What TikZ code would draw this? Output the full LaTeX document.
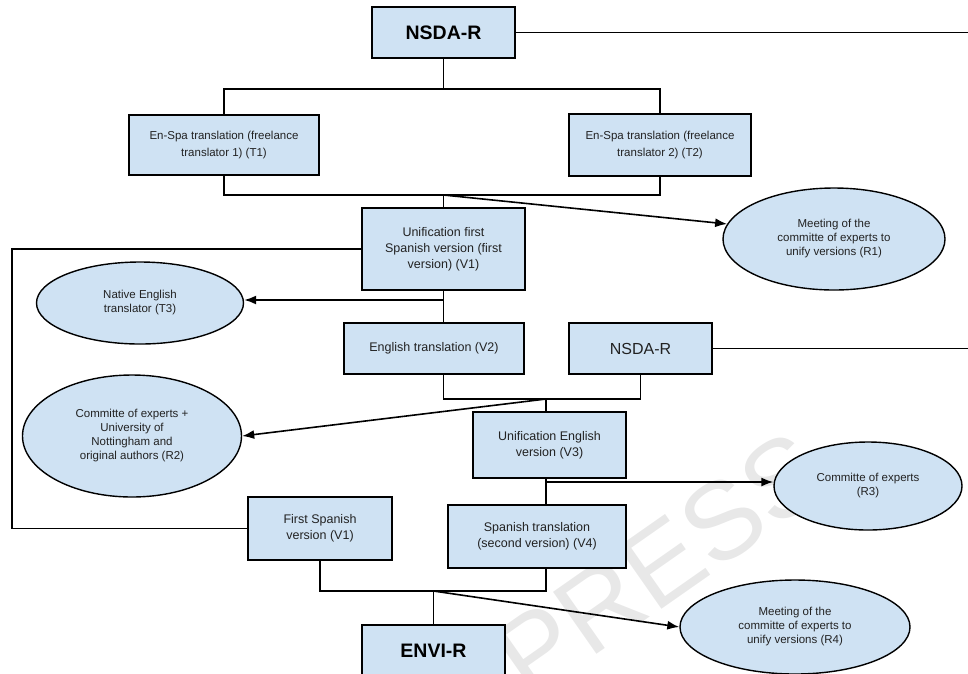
\documentclass[tikz,border=0pt]{standalone}
\usepackage{fontspec}
\setmainfont{Liberation Sans}
\usetikzlibrary{shapes.geometric,arrows,arrows.meta,positioning}
\definecolor{boxblue}{HTML}{CFE2F3}
\definecolor{txtgray}{HTML}{222222}
\definecolor{wmgray}{HTML}{E8E8E8}
\tikzstyle{l1}=[line width=1.6pt, draw=black]
\tikzstyle{arr}=[l1, -{Latex[length=12pt,width=9pt]}]
\tikzstyle{box}=[rectangle, draw=black, line width=1.8pt, fill=boxblue, inner sep=0pt, align=center, text=txtgray, font=\fontsize{12.5}{16}\selectfont]
\tikzstyle{tbox}=[box, font=\fontsize{11.5}{16.5}\selectfont]
\tikzstyle{title}=[box, text=black, font=\fontsize{19.5}{22}\selectfont\bfseries]
\tikzstyle{ell}=[ellipse, draw=black, line width=1.4pt, fill=boxblue, inner sep=0pt, align=center, text=txtgray, font=\fontsize{11.5}{14}\selectfont]

\begin{document}
\begin{tikzpicture}[x=1pt,y=-1pt]
    \useasboundingbox (0,0) rectangle (968,673);
    \node[text=wmgray, font=\fontsize{110}{110}\selectfont, rotate=35, anchor=base east] (wm) at (838,486) {IN PRESS};

    % boxes and ellipses
    \node[title, minimum width=143, minimum height=51] (nsda1) at (443.5,32.5) {NSDA-R};
    \node[tbox, minimum width=190, minimum height=60] (t1) at (224,145) {En-Spa translation (freelance\\translator 1) (T1)};
    \node[tbox, minimum width=182, minimum height=62] (t2) at (660,145) {En-Spa translation (freelance\\translator 2) (T2)};
    \node[box, minimum width=163, minimum height=82] (v1) at (443.5,249) {Unification first\\Spanish version (first\\version) (V1)};
    \node[ell, minimum width=222, minimum height=102] (r1) at (834,239) {Meeting of the\\committe of experts to\\unify versions (R1)};
    \node[ell, minimum width=207, minimum height=82] (t3) at (140,303) {Native English\\translator (T3)};
    \node[box, minimum width=180, minimum height=51] (v2) at (434,348.5) {English translation (V2)};
    \node[box, font=\fontsize{16}{18}\selectfont, minimum width=143, minimum height=51] (nsda2) at (640.5,348.5) {NSDA-R};
    \node[ell, minimum width=219, minimum height=122] (r2) at (132,436) {Committe of experts +\\University of\\Nottingham and\\original authors (R2)};
    \node[box, minimum width=153, minimum height=66] (v3) at (549.5,445) {Unification English\\version (V3)};
    \node[ell, minimum width=188, minimum height=88] (r3) at (868,486) {Committe of experts\\(R3)};
    \node[box, minimum width=144, minimum height=63] (fsv1) at (320,528.5) {First Spanish\\version (V1)};
    \node[box, minimum width=178, minimum height=63] (v4) at (537,536.5) {Spanish translation\\(second version) (V4)};
    \node[title, minimum width=143, minimum height=52] (envi) at (433.5,651) {ENVI-R};
    \node[ell, minimum width=230, minimum height=94] (r4) at (795,627) {Meeting of the\\committe of experts to\\unify versions (R4)};

    % junctions
    \coordinate (j1) at (443.5,89);
    \coordinate (j2) at (443.5,195);
    \coordinate (j3) at (443.5,300);
    \coordinate (j4) at (546,399);
    \coordinate (j5) at (546,482);
    \coordinate (j6) at (433.5,591);
    \coordinate (lc) at (12,400);
    \coordinate (e1) at (968,32.5);
    \coordinate (e2) at (968,348.5);

    % connectors
    \draw[l1] (nsda1) -- (e1);
    \draw[l1] (nsda1) -- (j1);
    \draw[l1] (t1.north) |- (j1) -| (t2.north);
    \draw[l1] (t1.south) |- (j2) -| (t2.south);
    \draw[l1] (j2) -- (v1);
    \draw[arr] (j2) -- (r1.172);
    \draw[l1] (v1) -| (lc) |- (fsv1);
    \draw[l1] (v1) -- (j3) -- (v1.south |- v2.north);
    \draw[arr] (j3) -- (j3 -| t3.east);
    \draw[l1] (nsda2) -- (e2);
    \draw[l1] (v2.south -| j3) |- (j4) -| (nsda2);
    \draw[l1] (j4) -- (j4 |- v3.north);
    \draw[arr] (j4) -- (r2.east);
    \draw[l1] (j4 |- v3.south) -- (j4 |- v4.north);
    \draw[arr] (j5) -- (j5 -| r3.west);
    \draw[l1] (fsv1) |- (j6) -| (j4 |- v4.south);
    \draw[l1] (j6) -- (envi);
    \draw[arr] (j6) -- (r4.west);
\end{tikzpicture}
\end{document}
